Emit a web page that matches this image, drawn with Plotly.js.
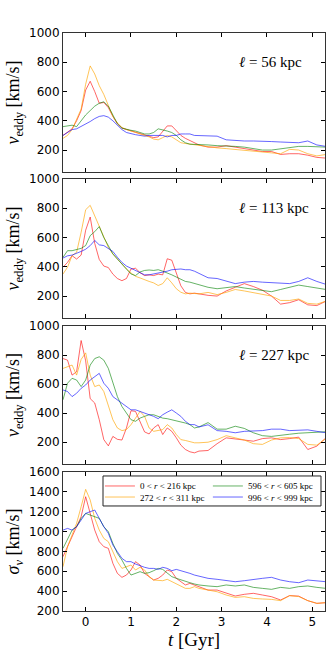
<!DOCTYPE html>
<html>
<head>
<meta charset="utf-8">
<script src="https://cdn.plot.ly/plotly-3.0.1.min.js"></script>
<style>
  html, body { margin: 0; padding: 0; background: #fff; }
  #plot { width: 332px; height: 664px; }
</style>
</head>
<body>
<div id="plot"></div>
<script>
// time in Gyr, shared by every curve
var t = [-0.5,-0.4,-0.3,-0.2,-0.1,0,0.1,0.2,0.3,0.4,0.5,0.6,0.7,0.8,0.9,1.0,1.1,1.2,1.3,1.4,1.5,1.6,1.7,1.8,1.9,2.0,2.1,2.2,2.3,2.4,2.5,2.7,2.9,3.1,3.3,3.5,3.7,3.9,4.1,4.3,4.5,4.7,4.9,5.1,5.3];

var seriesNames = ["0 &lt; <i>r</i> &lt; 216 kpc", "272 &lt; <i>r</i> &lt; 311 kpc", "596 &lt; <i>r</i> &lt; 605 kpc", "996 &lt; <i>r</i> &lt; 999 kpc"];
var colors = ["rgba(255,0,0,0.6)", "rgba(255,165,0,0.65)", "rgba(0,128,0,0.6)", "rgba(0,0,255,0.6)"];
var scaleLabels = ["56", "113", "227"];

// l = 56 kpc
var red1 = [300,320,345,400,470,610,670,600,520,525,490,430,380,350,340,330,320,310,300,290,285,290,330,365,365,330,300,280,265,250,235,220,220,230,220,210,200,190,190,170,175,175,165,150,145];
var orange1 = [280,300,340,410,480,650,775,720,640,580,500,430,385,355,340,330,320,315,305,290,275,270,285,300,290,270,250,245,240,235,230,225,215,210,205,200,195,190,185,175,205,200,175,160,170];
var green1 = [360,365,370,360,400,440,470,500,520,530,500,440,380,350,340,335,330,320,310,310,320,345,340,330,320,300,270,250,240,240,235,235,230,230,225,220,210,200,200,210,220,225,225,220,220];
var blue1 = [300,320,340,345,360,375,395,415,430,435,425,400,370,340,320,310,305,300,295,300,300,300,300,290,300,300,310,310,310,300,300,295,295,270,265,262,262,262,258,255,250,250,262,235,225];

// l = 113 kpc
var red2 = [397,430,476,453,480,650,740,560,450,405,395,350,320,305,320,385,390,360,340,345,340,350,345,455,445,360,270,225,215,220,215,205,200,235,260,285,265,240,200,145,155,175,140,135,165];
var orange2 = [351,397,476,499,636,790,820,750,670,602,533,488,453,420,385,358,335,324,310,300,290,272,285,325,290,250,226,215,220,215,215,225,210,225,245,235,225,215,200,170,170,180,150,145,165];
var green2 = [465,510,510,517,526,545,613,640,675,600,540,488,453,420,385,351,340,365,375,378,375,380,370,360,345,330,315,300,295,285,280,260,250,255,265,255,245,238,230,245,260,275,265,255,245];
var blue2 = [460,475,480,490,505,520,545,580,550,545,525,505,465,430,405,390,375,360,345,345,350,355,360,370,380,385,385,380,380,370,355,325,320,300,285,295,300,295,290,285,285,300,325,300,280];

// l = 227 kpc
var red3 = [776,765,662,685,900,760,500,470,355,218,175,240,220,215,298,417,412,344,271,257,298,321,253,298,275,230,180,150,134,127,139,143,190,230,225,215,207,225,230,218,225,235,150,173,230];
var orange3 = [708,719,731,662,770,815,662,583,594,549,458,355,298,280,287,321,366,412,378,298,275,280,287,321,298,253,218,212,203,196,196,200,218,245,230,215,190,185,215,230,232,225,185,180,225];
var green3 = [492,606,640,628,583,628,731,776,788,765,708,606,514,446,401,355,344,366,378,389,389,378,366,362,355,348,344,332,321,298,305,335,290,290,310,295,265,245,240,250,255,262,265,270,272];
var blue3 = [560,549,514,537,571,594,628,651,674,606,571,514,492,469,446,423,423,412,401,394,378,362,389,407,423,401,378,344,321,321,305,320,280,275,265,275,275,280,290,290,280,285,285,275,265];

// velocity dispersion
var red4 = [747,848,931,1049,1150,1351,1183,1015,898,848,831,680,579,539,562,613,697,663,579,546,512,529,562,613,596,529,495,462,478,462,445,411,411,378,351,368,378,361,344,311,355,350,304,277,284];
var orange4 = [646,848,965,1083,1250,1425,1318,1133,1015,931,898,797,697,629,646,663,613,640,613,546,512,512,505,519,495,478,452,428,428,445,428,411,394,361,337,344,327,321,317,304,355,345,304,277,284];
var green4 = [831,931,1015,1049,1133,1183,1167,1150,1133,1049,999,881,780,713,629,562,579,596,579,586,606,629,619,586,546,529,512,495,485,472,462,452,445,462,452,462,438,428,418,438,428,445,452,438,428];
var blue4 = [1015,1032,1015,1049,1116,1183,1200,1217,1133,1049,982,865,797,730,697,697,673,653,640,629,629,619,640,629,606,619,606,596,579,562,552,529,519,505,495,505,519,529,539,512,495,485,512,505,495];

var panels = [
  [red1, orange1, green1, blue1],
  [red2, orange2, green2, blue2],
  [red3, orange3, green3, blue3],
  [red4, orange4, green4, blue4]
];
// one legend per entry so the two-column box can be laid out like the original
var legendIds = ["legend", "legend2", "legend3", "legend4"];

var traces = [];
panels.forEach(function (set, p) {
  set.forEach(function (vals, i) {
    traces.push({
      x: t, y: vals,
      xaxis: "x" + (p + 1), yaxis: "y" + (p + 1),
      type: "scatter", mode: "lines",
      line: {color: colors[i], width: 1},
      name: seriesNames[i],
      legend: legendIds[i],
      showlegend: p === 3
    });
  });
});

var tickFont = {family: "DejaVu Sans", size: 12, color: "#000"};
var serif = "Liberation Serif, DejaVu Serif, serif";
var domains = [[0.7595, 1], [0.5069, 0.7474], [0.2543, 0.4931], [0, 0.2405]];

function xAxis(p) {
  return {
    domain: [0, 1], anchor: "y" + p, range: [-0.5, 5.28],
    tick0: 0, dtick: 1, ticks: "inside", ticklen: 4, tickcolor: "#000",
    showline: true, linecolor: "#333", linewidth: 1, mirror: "ticks",
    showgrid: false, zeroline: false, tickfont: tickFont,
    showticklabels: p === 4,
    title: p === 4 ? {text: "<i>t</i> [Gyr]", font: {family: serif, size: 19, color: "#000"}, standoff: 4} : undefined
  };
}
function yAxis(p) {
  var last = p === 4;
  return {
    domain: domains[p - 1], anchor: "x" + p,
    range: last ? [200, 1600] : [50, 1000],
    tickvals: last ? [200,400,600,800,1000,1200,1400,1600] : [200,400,600,800,1000],
    ticks: "inside", ticklen: 4, tickcolor: "#000",
    showline: true, linecolor: "#333", linewidth: 1, mirror: "ticks",
    showgrid: false, zeroline: false, tickfont: tickFont,
    title: {
      text: last ? "<i>σ</i><sub><i>v</i></sub> [km/s]" : "<i>v</i><sub>eddy</sub> [km/s]",
      font: {family: serif, size: 18, color: "#000"}, standoff: 4
    }
  };
}

function legendAt(x, y) {
  return {
    x: x, y: y, xanchor: "left", yanchor: "middle",
    bgcolor: "rgba(0,0,0,0)", borderwidth: 0,
    font: {family: serif, size: 9, color: "#000"}, itemwidth: 30
  };
}

var layout = {
  width: 332, height: 664,
  margin: {l: 63, r: 7, t: 33, b: 53},
  paper_bgcolor: "#fff", plot_bgcolor: "#fff",
  showlegend: true,
  legend: legendAt(0.141, 0.2163),
  legend2: legendAt(0.141, 0.1972),
  legend3: legendAt(0.553, 0.2163),
  legend4: legendAt(0.553, 0.1972),
  shapes: [{
    type: "rect", xref: "paper", yref: "paper", layer: "above",
    x0: 0.1527, x1: 0.9847, y0: 0.1817, y1: 0.2336,
    line: {color: "#222", width: 1}, fillcolor: "#fff"
  }],
  annotations: scaleLabels.map(function (s, i) {
    return {
      xref: "x" + (i + 1) + " domain", yref: "y" + (i + 1) + " domain",
      x: 0.664, y: 0.79, xanchor: "left", yanchor: "middle",
      text: "<i>ℓ</i> = " + s + " kpc", showarrow: false,
      font: {family: serif, size: 15, color: "#000"}
    };
  })
};
for (var p = 1; p <= 4; p++) {
  layout["xaxis" + p] = xAxis(p);
  layout["yaxis" + p] = yAxis(p);
}

Plotly.newPlot("plot", traces, layout, {displayModeBar: false, staticPlot: true});
</script>
</body>
</html>
